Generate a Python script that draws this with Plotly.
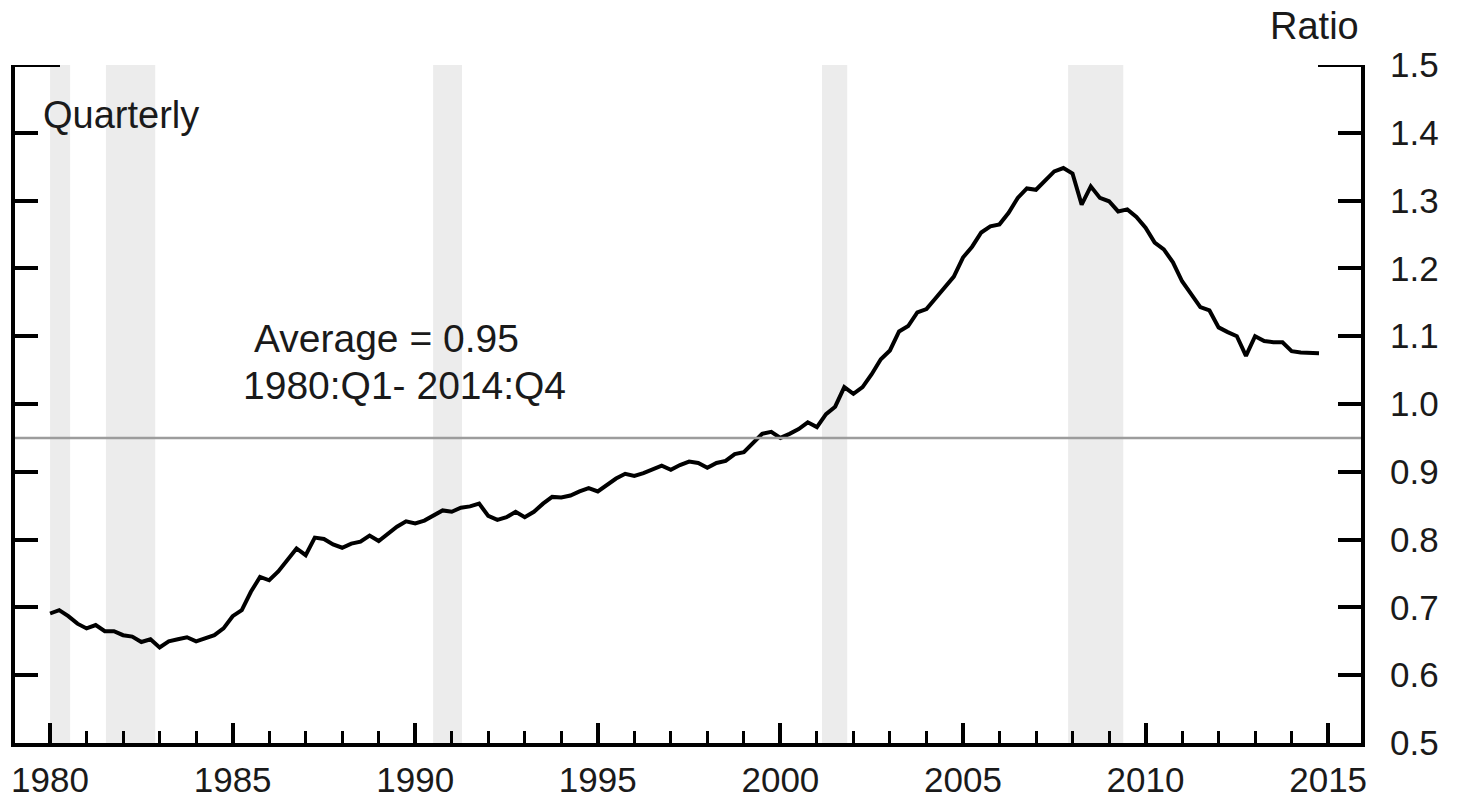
import plotly.graph_objects as go

years = list(range(1980, 2015))
ratio = [
    0.691, 0.696, 0.687, 0.676,
    0.669, 0.674, 0.665, 0.665,
    0.659, 0.657, 0.649, 0.653,
    0.641, 0.650, 0.653, 0.656,
    0.650, 0.654, 0.659, 0.669,
    0.687, 0.696, 0.723, 0.745,
    0.740, 0.753, 0.769, 0.787,
    0.777, 0.803, 0.801, 0.793,
    0.788, 0.794, 0.797, 0.806,
    0.798, 0.809, 0.819, 0.827,
    0.824, 0.828, 0.835, 0.843,
    0.841, 0.847, 0.849, 0.853,
    0.835, 0.829, 0.833, 0.841,
    0.833, 0.841, 0.853, 0.863,
    0.862, 0.865, 0.871, 0.876,
    0.871, 0.880, 0.890, 0.897,
    0.894, 0.898, 0.903, 0.909,
    0.903, 0.910, 0.915, 0.913,
    0.906, 0.913, 0.916, 0.926,
    0.929, 0.943, 0.956, 0.959,
    0.950, 0.956, 0.963, 0.973,
    0.966, 0.985, 0.996, 1.025,
    1.015, 1.025, 1.044, 1.066,
    1.079, 1.107, 1.115, 1.135,
    1.140, 1.156, 1.172, 1.188,
    1.216, 1.232, 1.253, 1.262,
    1.265, 1.282, 1.304, 1.318,
    1.316, 1.329, 1.343, 1.348,
    1.340, 1.294, 1.321, 1.304,
    1.299, 1.284, 1.287, 1.276,
    1.260, 1.238, 1.228, 1.209,
    1.181, 1.162, 1.143, 1.138,
    1.113, 1.106, 1.100, 1.071,
    1.100, 1.093, 1.091, 1.091,
    1.078, 1.076, 1.076, 1.075,
]
quarter_x = [y + q / 4 for y in years for q in range(4)]

average = 0.95
recession_start = [1980.0, 1981.53, 1990.49, 2001.14, 2007.88]
recession_end = [1980.55, 1982.88, 1991.28, 2001.83, 2009.39]

x_range = [1979.04, 2015.9]
y_range = [0.5, 1.5]
x_tickvals = list(range(1980, 2016, 5))
y_tickvals = [round(0.5 + 0.1 * i, 1) for i in range(11)]

FONT = "Liberation Sans, Arial, sans-serif"
TXT = "#1a1a1a"

W, H = 1460, 798
M = dict(l=15, r=99, t=65, b=55)
plot_w = W - M["l"] - M["r"]

fig = go.Figure()
fig.add_trace(go.Scatter(x=quarter_x, y=ratio, mode="lines",
                         line=dict(color="black", width=4),
                         hoverinfo="skip", showlegend=False))

shapes = []
for s, e in zip(recession_start, recession_end):
    shapes.append(dict(type="rect", xref="x", yref="y", x0=s, x1=e,
                       y0=y_range[0], y1=y_range[1], fillcolor="#ececec",
                       line=dict(width=0), layer="below"))
shapes.append(dict(type="line", xref="paper", yref="y", x0=0, x1=1,
                   y0=average, y1=average,
                   line=dict(color="#9c9c9c", width=2.5), layer="above"))
# longer top ticks at 1.5
px_per_year = plot_w / (x_range[1] - x_range[0])
shapes.append(dict(type="line", xref="x", yref="y", x0=x_range[0],
                   x1=x_range[0] + 45 / px_per_year, y0=y_range[1], y1=y_range[1],
                   line=dict(color="black", width=4)))
shapes.append(dict(type="line", xref="x", yref="y", x0=x_range[1] - 43 / px_per_year,
                   x1=x_range[1], y0=y_range[1], y1=y_range[1],
                   line=dict(color="black", width=4)))

annotations = [
    dict(text="Quarterly", xref="paper", yref="y", x=0.019, y=1.426,
         xanchor="left", yanchor="middle", showarrow=False,
         font=dict(family=FONT, size=38, color=TXT)),
    dict(text="Average = 0.95", xref="paper", yref="y", x=0.176, y=1.096,
         xanchor="left", yanchor="middle", showarrow=False,
         font=dict(family=FONT, size=39, color=TXT)),
    dict(text="1980:Q1- 2014:Q4", xref="paper", yref="y", x=0.168, y=1.028,
         xanchor="left", yanchor="middle", showarrow=False,
         font=dict(family=FONT, size=39, color=TXT)),
    dict(text="Ratio", xref="paper", yref="paper", x=1.0, y=1.057,
         xanchor="right", yanchor="middle", showarrow=False,
         font=dict(family=FONT, size=38, color=TXT)),
]

fig.update_layout(
    width=W, height=H,
    margin=M,
    paper_bgcolor="white", plot_bgcolor="white",
    shapes=shapes, annotations=annotations,
    showlegend=False,
    xaxis=dict(range=x_range, tickvals=x_tickvals, ticks="inside",
               ticklen=20, tickwidth=4, tickcolor="black",
               showline=True, linecolor="black", linewidth=4,
               showgrid=False, zeroline=False, ticklabelstandoff=3,
               automargin=False,
               tickfont=dict(family=FONT, size=35, color=TXT),
               minor=dict(dtick=1, tick0=1980, ticks="inside", ticklen=12,
                          tickwidth=2.5, tickcolor="black", showgrid=False)),
    yaxis=dict(range=y_range, tickvals=y_tickvals, tickformat=".1f",
               side="right", ticks="inside", ticklen=23, tickwidth=4,
               tickcolor="black", showline=True, linecolor="black",
               linewidth=4, mirror="ticks", showgrid=False, zeroline=False,
               ticklabelstandoff=18, automargin=False,
               tickfont=dict(family=FONT, size=35, color=TXT)),
)

# remove the default 8px page margin so the 1460x798 figure fills the window
fig.write_html("out.html",
               config={"displayModeBar": False},
               post_script="document.body.style.margin='0';"
                           "document.body.style.overflow='hidden';")
